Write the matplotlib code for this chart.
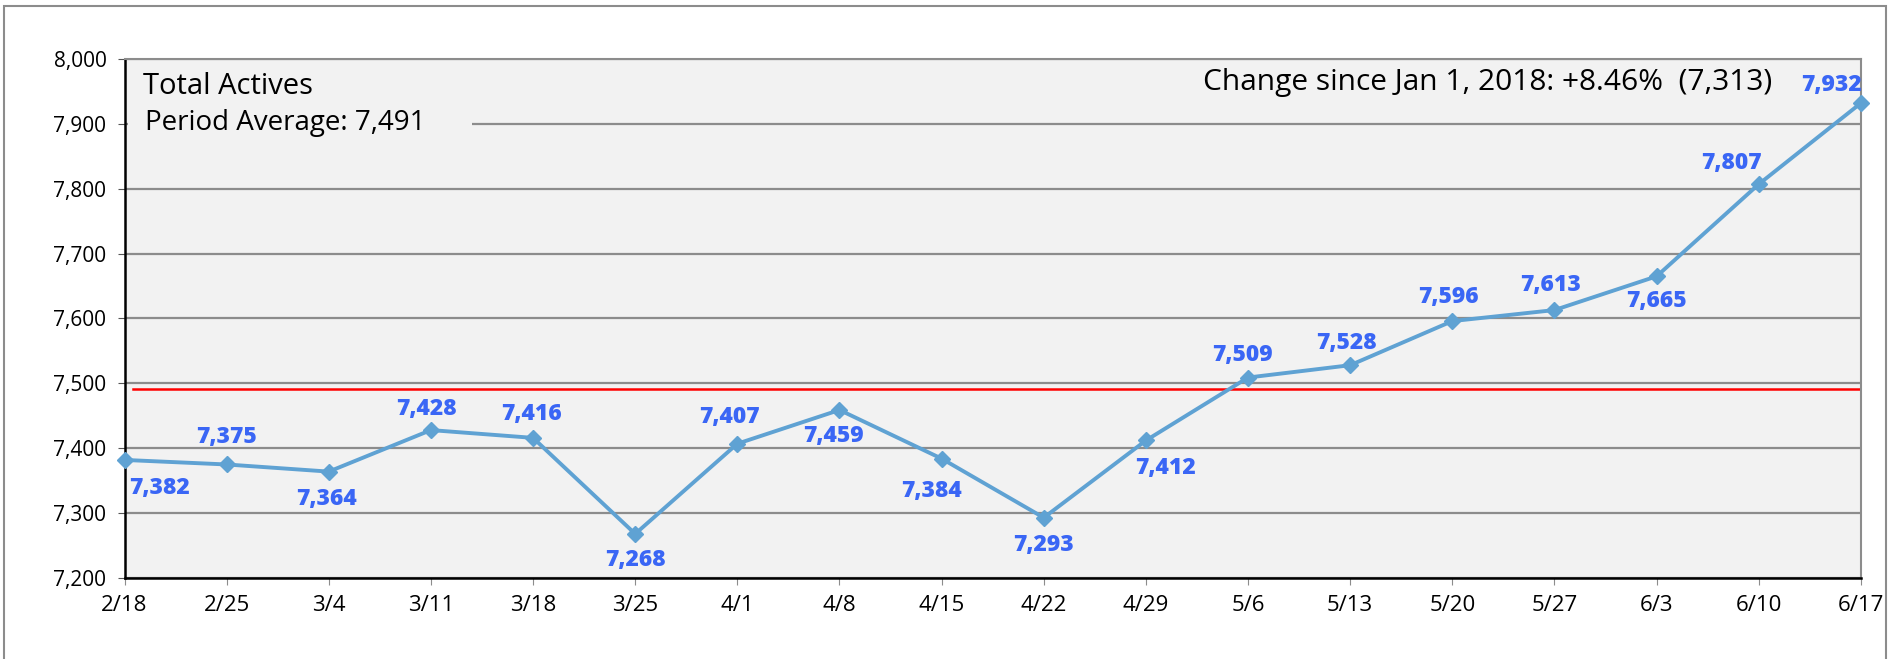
import numpy as np
import matplotlib
matplotlib.use("Agg")
import matplotlib.pyplot as plt
from matplotlib.patches import Rectangle

plt.rcParams['font.family'] = ['Open Sans', 'DejaVu Sans']

weeks = ['2/18', '2/25', '3/4', '3/11', '3/18', '3/25', '4/1', '4/8', '4/15',
         '4/22', '4/29', '5/6', '5/13', '5/20', '5/27', '6/3', '6/10', '6/17']
actives = [7382, 7375, 7364, 7428, 7416, 7268, 7407, 7459, 7384,
           7293, 7412, 7509, 7528, 7596, 7613, 7665, 7807, 7932]
period_avg = 7491
title = 'Total Actives'
avg_text = 'Period Average: 7,491'
change_text = 'Change since Jan 1, 2018: +8.46%  (7,313)'

# label offsets (points) for each data label
lab_off = [(25, -20), (0, 20), (-2, -20), (-3, 15), (-1, 17), (0, -19),
           (-6, 19), (-4, -19), (-7, -23), (0, -20), (14, -20), (-4, 16),
           (-3, 16), (-3, 17), (-3, 18), (0, -18), (-20, 15), (-21, 13)]

fig = plt.figure(figsize=(18.95, 6.59), dpi=100)
fig.patches.append(Rectangle((4/1895, -0.1), 1882/1895, 1.1 - 6/659,
                             transform=fig.transFigure, fill=False,
                             edgecolor='#8c8c8c', lw=1.5))

ax = fig.add_axes([0.0657, 0.1229, 0.9163, 0.7876])
ax.set_facecolor('#f2f2f2')
x = np.arange(len(weeks))

ax.set_ylim(7200, 8000)
ax.set_xlim(0, len(weeks) - 1)
ax.set_yticks(np.arange(7200, 8001, 100))
ax.set_yticklabels(['{:,}'.format(v) for v in range(7200, 8001, 100)], fontsize=15)
ax.set_xticks(x)
ax.set_xticklabels(weeks, fontsize=16)
ax.tick_params(axis='x', length=5, color='#8c8c8c', pad=7)
ax.tick_params(axis='y', length=5, color='#555555', pad=8)
ax.yaxis.grid(True, color='#8c8c8c', lw=1.6)
ax.set_axisbelow(True)
for s in ['top', 'right']:
    ax.spines[s].set_color('#8c8c8c')
    ax.spines[s].set_linewidth(1.5)
for s in ['left', 'bottom']:
    ax.spines[s].set_color('black')
    ax.spines[s].set_linewidth(1.8)

ax.axhline(period_avg, xmin=0.005, xmax=1, color='#ff0000', lw=1.8, zorder=2)
ax.plot(x, actives, color='#5fa2d3', lw=2.8, marker='D', markersize=8.5,
        zorder=3, clip_on=False)

for xi, v, off in zip(x, actives, lab_off):
    ax.annotate('{:,}'.format(v), (xi, v), xytext=off, textcoords='offset points',
                ha='center', va='center', fontsize=16.5, fontweight='heavy',
                color='#3a66f5', zorder=4)

yt = ax.get_yaxis_transform()
ax.add_patch(Rectangle((0.002, 0.84), 0.198, 0.1, transform=ax.transAxes,
                       facecolor='#f2f2f2', edgecolor='none', zorder=1.5))
ax.text(0.0104, 7957, title, fontsize=21, fontweight='medium', va='center',
        ha='left', zorder=4, transform=yt)
ax.text(0.0118, 7901, avg_text, fontsize=20, fontweight='medium', va='center',
        ha='left', zorder=4, transform=yt)
ax.text(0.949, 7963, change_text, fontsize=21.5, fontweight='medium', va='center',
        ha='right', zorder=4, transform=yt)

fig.savefig('out.png', dpi=100)
